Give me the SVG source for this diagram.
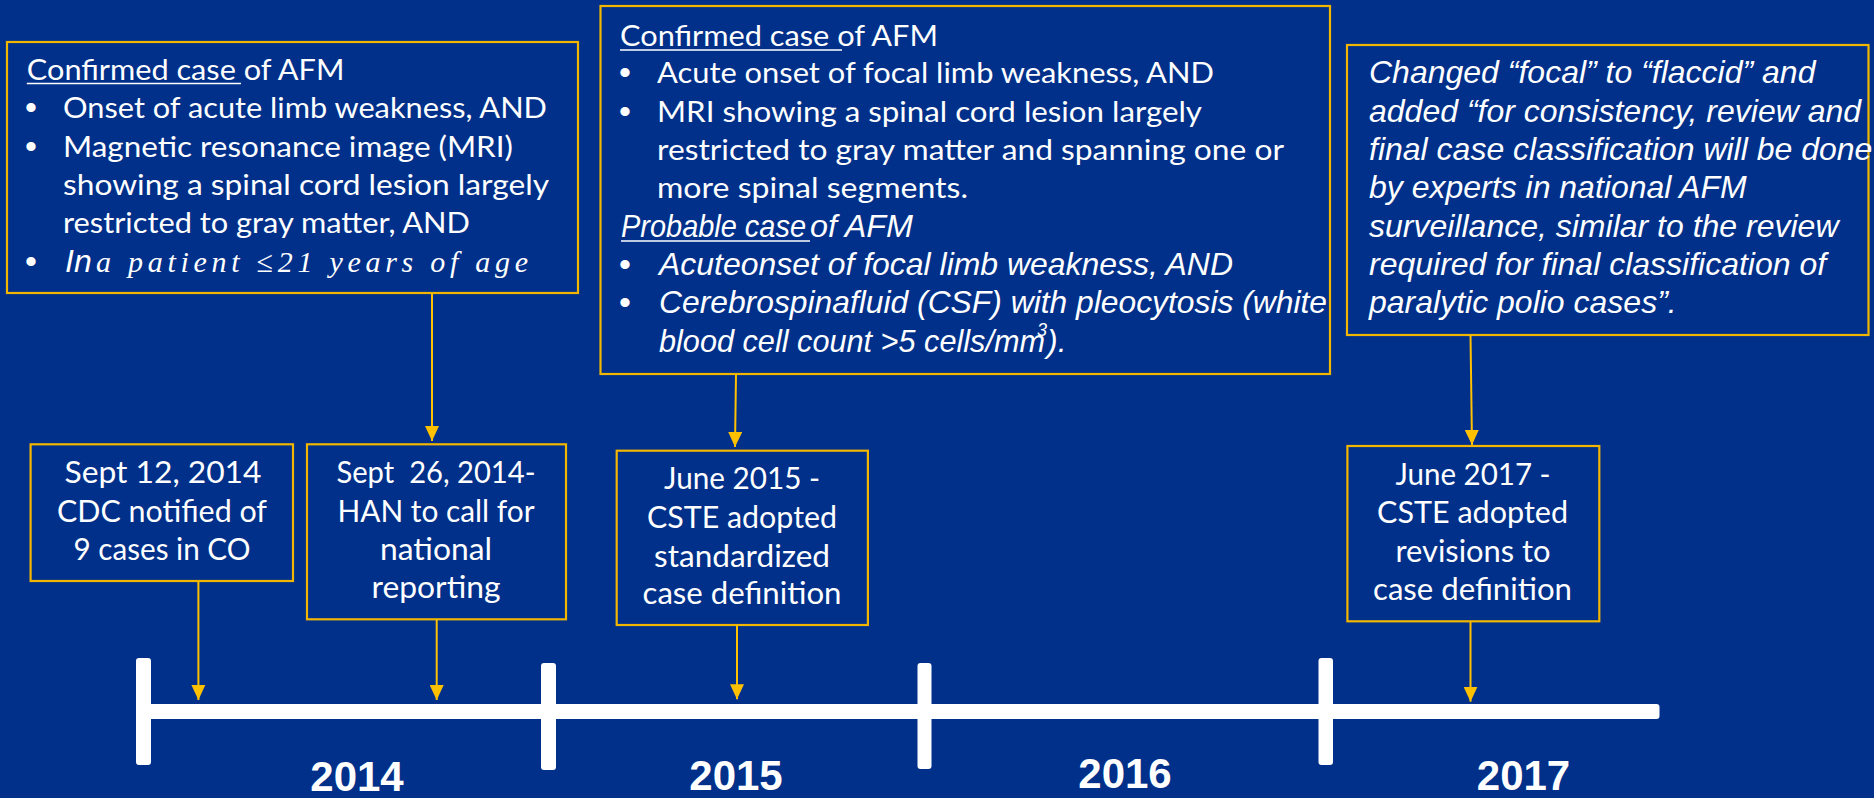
<svg xmlns="http://www.w3.org/2000/svg" width="1874" height="798" viewBox="0 0 1874 798">
  <style>
    .bg { fill: #00308A; }
    .box { fill: none; stroke: #F2B600; stroke-width: 2.2; }
    .conn { fill: none; stroke: #FFC000; stroke-width: 2; marker-end: url(#arr); }
    .txt { font-family: Lato, "Open Sans", "Noto Sans", sans-serif; font-size: 29px; fill: #ffffff; }
    .ctr { font-family: Lato, "Open Sans", "Noto Sans", sans-serif; font-size: 30px; fill: #ffffff; text-anchor: middle; }
    .ital { font-family: "Liberation Sans", Arial, sans-serif; font-style: italic; font-size: 32px; fill: #ffffff; }
    .sup { font-size: 18px; }
    .serif { font-family: "Liberation Serif", "Times New Roman", serif; font-style: italic; font-size: 30px; fill: #ffffff; }
    .bul { font-family: "Liberation Sans", Arial, sans-serif; font-size: 34px; fill: #ffffff; }
    .uline { stroke: #ffffff; stroke-width: 1.6; }
    .bar { fill: #ffffff; }
    .year { font-family: "Liberation Sans", Arial, sans-serif; font-weight: bold; font-size: 42px; fill: #ffffff; text-anchor: middle; }
  </style>
  <defs>
    <marker id="arr" markerUnits="userSpaceOnUse" viewBox="0 0 15 14" markerWidth="15" markerHeight="14" refX="15" refY="7" orient="auto">
      <path d="M0,0 L15,7 L0,14 z" fill="#FFC000"/>
    </marker>
  </defs>

  <rect class="bg" x="0" y="0" width="1874" height="798"/>

  <!-- timeline axis -->
  <g id="timeline">
    <rect class="bar" x="136" y="704" width="1523.5" height="15" rx="3"/>
    <rect class="bar" x="136" y="658" width="15" height="107" rx="3"/>
    <rect class="bar" x="541" y="663" width="15" height="107" rx="3"/>
    <rect class="bar" x="917.5" y="663" width="14" height="106" rx="3"/>
    <rect class="bar" x="1318.5" y="658" width="14.5" height="107" rx="3"/>
    <text class="year" x="357" y="791">2014</text>
    <text class="year" x="736" y="790">2015</text>
    <text class="year" x="1125" y="788">2016</text>
    <text class="year" x="1523.5" y="790">2017</text>
  </g>

  <!-- 2014 definition -->
  <g id="def-2014">
    <rect class="box" x="7" y="42" width="571" height="251"/>
    <text class="txt" x="26.8" y="80" textLength="317.6" lengthAdjust="spacingAndGlyphs">Confirmed case of AFM</text>
    <line class="uline" x1="26.8" y1="83.5" x2="241" y2="83.5"/>
    <text class="bul" x="25" y="119">•</text>
    <text class="txt" x="63" y="118.3" textLength="484" lengthAdjust="spacingAndGlyphs">Onset of acute limb weakness, AND</text>
    <text class="bul" x="25" y="157.5">•</text>
    <text class="txt" x="63" y="156.7" textLength="450" lengthAdjust="spacingAndGlyphs">Magnetic resonance image (MRI)</text>
    <text class="txt" x="63" y="195" textLength="486" lengthAdjust="spacingAndGlyphs">showing a spinal cord lesion largely</text>
    <text class="txt" x="63" y="233.3" textLength="407" lengthAdjust="spacingAndGlyphs">restricted to gray matter, AND</text>
    <text class="bul" x="25" y="272.5">•</text>
    <text class="ital" x="65" y="271.7">In</text>
    <text class="serif" x="96" y="271.7" textLength="432" lengthAdjust="spacing">a patient ≤21 years of age</text>
  </g>

  <!-- 2015 definition -->
  <g id="def-2015">
    <rect class="box" x="600.5" y="6" width="729.5" height="368"/>
    <text class="txt" x="620" y="46" textLength="318" lengthAdjust="spacingAndGlyphs">Confirmed case of AFM</text>
    <line class="uline" x1="620" y1="50" x2="842" y2="50"/>
    <text class="bul" x="619" y="84">•</text>
    <text class="txt" x="657" y="83.3" textLength="557" lengthAdjust="spacingAndGlyphs">Acute onset of focal limb weakness, AND</text>
    <text class="bul" x="619" y="122.5">•</text>
    <text class="txt" x="657" y="121.7" textLength="545" lengthAdjust="spacingAndGlyphs">MRI showing a spinal cord lesion largely</text>
    <text class="txt" x="657" y="160" textLength="627" lengthAdjust="spacingAndGlyphs">restricted to gray matter and spanning one or</text>
    <text class="txt" x="657" y="198.3" textLength="311" lengthAdjust="spacingAndGlyphs">more spinal segments.</text>
    <text class="ital" x="621" y="236.7" textLength="185" lengthAdjust="spacingAndGlyphs">Probable case</text>
    <text class="ital" x="810" y="236.7" textLength="103" lengthAdjust="spacingAndGlyphs">of AFM</text>
    <line class="uline" x1="621" y1="241" x2="810" y2="241"/>
    <text class="bul" x="619" y="276">•</text>
    <text class="ital" x="659" y="275" textLength="574" lengthAdjust="spacingAndGlyphs">Acuteonset of focal limb weakness, AND</text>
    <text class="bul" x="619" y="314">•</text>
    <text class="ital" x="659" y="313.3" textLength="668" lengthAdjust="spacingAndGlyphs">Cerebrospinafluid (CSF) with pleocytosis (white</text>
    <text class="ital" x="659" y="351.7" textLength="386" lengthAdjust="spacingAndGlyphs">blood cell count &gt;5 cells/mm</text>
    <text class="ital sup" x="1037" y="336">3</text>
    <text class="ital" x="1047" y="351.7">).</text>
  </g>

  <!-- 2017 revision note -->
  <g id="def-2017">
    <rect class="box" x="1347" y="45" width="521.5" height="290"/>
    <text class="ital" x="1369" y="83.3">Changed “focal” to “flaccid” and</text>
    <text class="ital" x="1369" y="121.7">added “for consistency, review and</text>
    <text class="ital" x="1369" y="160">final case classification will be done</text>
    <text class="ital" x="1369" y="198.3">by experts in national AFM</text>
    <text class="ital" x="1369" y="236.7">surveillance, similar to the review</text>
    <text class="ital" x="1369" y="275">required for final classification of</text>
    <text class="ital" x="1369" y="313.3">paralytic polio cases”.</text>
  </g>

  <!-- timeline events -->
  <g id="ev-sept12">
    <rect class="box" x="30.6" y="444.3" width="262.4" height="136.7"/>
    <text class="ctr" x="163" y="483.3" textLength="197" lengthAdjust="spacingAndGlyphs">Sept 12, 2014</text>
    <text class="ctr" x="162" y="521.7" textLength="210" lengthAdjust="spacingAndGlyphs">CDC notified of</text>
    <text class="ctr" x="162" y="560" textLength="177" lengthAdjust="spacingAndGlyphs">9 cases in CO</text>
  </g>

  <g id="ev-sept26">
    <rect class="box" x="307" y="444.3" width="259" height="175"/>
    <text class="ctr" x="436" y="483.3" textLength="199" lengthAdjust="spacingAndGlyphs">Sept&#160; 26, 2014-</text>
    <text class="ctr" x="436" y="521.7" textLength="197" lengthAdjust="spacingAndGlyphs">HAN to call for</text>
    <text class="ctr" x="436" y="560" textLength="112" lengthAdjust="spacingAndGlyphs">national</text>
    <text class="ctr" x="436" y="598.3" textLength="129" lengthAdjust="spacingAndGlyphs">reporting</text>
  </g>

  <g id="ev-june2015">
    <rect class="box" x="616.7" y="450.7" width="251.2" height="174.3"/>
    <text class="ctr" x="742" y="489.3" textLength="156" lengthAdjust="spacingAndGlyphs">June 2015 -</text>
    <text class="ctr" x="742" y="528.3" textLength="190" lengthAdjust="spacingAndGlyphs">CSTE adopted</text>
    <text class="ctr" x="742" y="566.7" textLength="176" lengthAdjust="spacingAndGlyphs">standardized</text>
    <text class="ctr" x="742" y="604.3" textLength="199" lengthAdjust="spacingAndGlyphs">case definition</text>
  </g>

  <g id="ev-june2017">
    <rect class="box" x="1347.4" y="446" width="251.9" height="175.3"/>
    <text class="ctr" x="1473" y="485" textLength="155" lengthAdjust="spacingAndGlyphs">June 2017 -</text>
    <text class="ctr" x="1472.5" y="523.3" textLength="191" lengthAdjust="spacingAndGlyphs">CSTE adopted</text>
    <text class="ctr" x="1473" y="561.7" textLength="155" lengthAdjust="spacingAndGlyphs">revisions to</text>
    <text class="ctr" x="1472.5" y="600" textLength="199" lengthAdjust="spacingAndGlyphs">case definition</text>
  </g>

  <!-- connectors -->
  <g id="connectors">
    <line class="conn" x1="432" y1="293" x2="432" y2="441"/>
    <line class="conn" x1="736" y1="374" x2="735" y2="447"/>
    <line class="conn" x1="1470.5" y1="335" x2="1472" y2="445"/>
    <line class="conn" x1="198.4" y1="581" x2="198.4" y2="700"/>
    <line class="conn" x1="436.7" y1="619.3" x2="436.7" y2="700"/>
    <line class="conn" x1="737" y1="625" x2="737" y2="699.3"/>
    <line class="conn" x1="1470.5" y1="621.3" x2="1470.5" y2="701.7"/>
  </g>
</svg>
